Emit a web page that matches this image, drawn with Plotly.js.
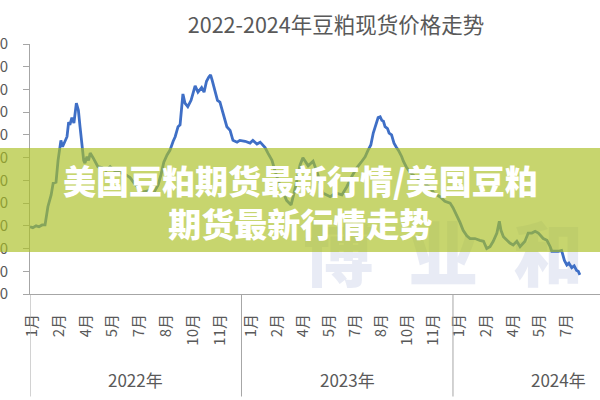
<!DOCTYPE html>
<html>
<head>
<meta charset="utf-8">
<script src="https://cdn.plot.ly/plotly-3.0.1.min.js"></script>
<style>
html,body{margin:0;padding:0;background:#fff;overflow:hidden;}
#chart{width:600px;height:400px;}
</style>
</head>
<body>
<div id="chart"></div>
<script>
// ---- data (x = week index counted from the first week of 2022) ----
const weeks2022 = [0.0,0.7,1.5,2.2,3.0,3.7,4.4,5.2,5.7,6.4,6.9,7.6,8.0,8.5,9.1,9.5,9.8,10.3,10.8,11.4,11.9,12.3,12.8,13.2,13.5,14.0,14.4,14.8,15.5,16.2,16.7,17.7,18.7,19.7,20.7,21.6,22.6,23.6,24.6,25.6,26.6,27.5,28.5,29.5,30.5,31.5,32.2,32.9,33.7,34.4,35.2,35.7,36.4,36.9,37.6,38.1,38.8,39.6,40.1,40.6,41.3,42.2,42.8,43.4,44.0,44.4,44.8,45.5,46.1,46.7,47.5,48.4,49.2,49.9,50.9,51.6];
const price2022 = [3740,3730,3750,3740,3760,3760,3960,4090,4220,4230,4470,4690,4620,4670,4730,4890,4860,4940,4880,5100,5020,4840,4620,4470,4440,4510,4470,4550,4500,4440,4400,4390,4360,4400,4360,4340,4330,4310,4280,4220,4170,4120,4130,4140,4120,4200,4310,4450,4530,4580,4680,4730,4840,4860,5200,5100,5060,5130,5210,5290,5220,5270,5220,5340,5390,5410,5350,5240,5130,5110,4990,4840,4800,4690,4670,4690];
const weeks2023 = [52.9,54.1,54.8,55.8,56.6,57.3,57.8,58.5,59.5,60.2,61.0,62.0,63.1,64.2,65.4,66.4,67.1,68.4,69.6,70.6,72.0,73.8,75.2,76.7,77.9,79.2,80.4,81.6,82.4,83.1,83.8,84.4,85.1,85.6,86.1,86.5,86.9,87.3,87.9,88.3,88.9,89.5,90.0,90.6,91.4,91.8,92.5,93.4,94.7,95.9,97.1,98.4,99.3,100.8,102.0,103.3];
const price2023 = [4680,4660,4690,4650,4670,4640,4610,4550,4470,4360,4250,4140,4030,3980,4200,4420,4500,4410,4460,4340,4110,4070,4110,4090,4180,4300,4390,4460,4510,4580,4640,4770,4880,4940,4950,4910,4900,4840,4820,4770,4750,4660,4620,4580,4510,4460,4400,4340,4290,4250,4220,4170,4110,4070,4020,4000];
const weeks2024 = [104.0,104.7,105.7,106.5,107.4,108.2,109.4,110.6,111.5,112.3,113.1,113.9,114.8,115.4,115.8,116.4,117.2,118.0,118.8,119.7,120.5,121.7,122.5,123.4,124.2,125.0,126.2,127.1,127.9,128.3,129.9,130.7,131.4,132.0,132.5,133.2,133.8,134.4,134.8,135.2];
const price2024 = [3950,3890,3790,3700,3640,3610,3610,3590,3580,3500,3520,3580,3670,3800,3700,3630,3590,3560,3540,3580,3520,3580,3670,3670,3690,3670,3610,3590,3520,3470,3470,3480,3370,3320,3340,3290,3310,3260,3250,3210];

const years = ['2022年','2023年','2024年'];
const yearStartWeek = [0, 52, 104];
const weeksPerYear = 52;
const monthLabels = ['1月','2月','4月','5月','7月','8月','10月','11月'];
// week position of the labelled trading day in each year
const monthTickWeeks = [
  [0.5,7.1,13.7,20.3,26.9,33.5,40.1,46.7],
  [54.3,60.7,67.1,73.5,79.9,86.3,92.7,99.1],
  [105.5,112.1,118.7,125.3,131.9,138.5,145.1,151.7]
];
const yTicks = [3000,3250,3500,3750,4000,4250,4500,4750,5000,5250,5500,5750];

const chartTitle = '2022-2024年豆粕现货价格走势';
const bannerText = '美国豆粕期货最新行情/美国豆粕<br>期货最新行情走势';
const watermarkText = '博\u2002业\u2002和';

// ---- build ----
const xs = weeks2022.concat(weeks2023, weeks2024);
const ys = price2022.concat(price2023, price2024);

const tickvals = [], ticktext = [];
monthTickWeeks.forEach(arr => arr.forEach((w, i) => { tickvals.push(w); ticktext.push(monthLabels[i]); }));

const font = '"Noto Sans CJK SC", "Microsoft YaHei", sans-serif';
const grey = '#595959';
const axisGrey = '#a6a6a6';

const shapes = [];
// faint watermark behind the line
shapes.push({type:'rect', xref:'paper', yref:'paper', x0:0.42, x1:1.03, y0:0.0, y1:0.26,
  line:{width:0}, fillcolor:'rgba(0,0,0,0)', layer:'below',
  label:{text:watermarkText, textposition:'middle center',
    font:{family:font, size:70, color:'rgba(210,216,236,0.5)', weight:900}}});
yearStartWeek.forEach(w => {
  shapes.push({type:'line', xref:'x', yref:'paper', x0:w, x1:w, y0:0, y1:-0.41,
    line:{color:axisGrey, width:1}});
});
shapes.push({type:'rect', xref:'paper', yref:'paper', x0:-0.06, x1:1.01, y0:0.168, y1:0.584,
  fillcolor:'rgba(170,192,35,0.66)', line:{width:0}, layer:'above'});

const annotations = years.map((t, i) => ({
  text:t, xref:'x', yref:'paper', x:yearStartWeek[i] + weeksPerYear/2, y:-0.34,
  showarrow:false, font:{family:font, size:17, color:grey}, xanchor:'center', yanchor:'middle'
}));
annotations.push({
  text:bannerText, xref:'paper', yref:'paper', x:0.475, y:0.372, showarrow:false,
  font:{family:font, size:33, color:'#ffffff', weight:900}, xanchor:'center', yanchor:'middle', align:'center'
});

const trace = {
  x: xs, y: ys, type:'scatter', mode:'lines',
  line:{color:'#3f6fc6', width:2.8}, hoverinfo:'skip'
};

const layout = {
  width:600, height:400,
  margin:{l:30, r:0, t:44, b:106, pad:0},
  paper_bgcolor:'#ffffff', plot_bgcolor:'#ffffff',
  showlegend:false,
  title:{text:chartTitle, font:{family:font, size:21.5, color:grey},
    xref:'container', yref:'container', x:0.56, y:0.9375, xanchor:'center', yanchor:'middle'},
  xaxis:{
    range:[0, 140.15], showgrid:false, zeroline:false,
    showline:true, linecolor:axisGrey, linewidth:1,
    tickmode:'array', tickvals:tickvals, ticktext:ticktext,
    tickangle:-90, ticks:'', ticklabelstandoff:13,
    tickfont:{family:font, size:15, color:grey}
  },
  yaxis:{
    range:[3000, 5750], showgrid:false, zeroline:false,
    showline:true, linecolor:axisGrey, linewidth:1,
    tickmode:'array', tickvals:yTicks,
    ticks:'outside', ticklen:6, tickcolor:axisGrey, ticklabelstandoff:12,
    tickfont:{family:font, size:15, color:grey}
  },
  shapes:shapes,
  annotations:annotations
};

Plotly.newPlot('chart', [trace], layout, {staticPlot:true, displayModeBar:false});
</script>
</body>
</html>
